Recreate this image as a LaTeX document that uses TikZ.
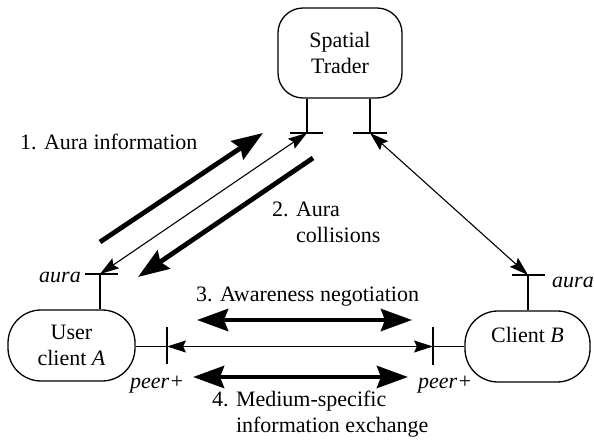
\documentclass[tikz,border=0pt]{standalone}
\usepackage{fontspec}
\setmainfont{Liberation Serif}
\usetikzlibrary{arrows.meta}
\begin{document}
\begin{tikzpicture}[x=1pt,y=-1pt,
  every node/.style={font=\fontsize{22}{26}\selectfont, inner sep=0pt},
  box/.style={draw, line width=1.3pt, rounded corners=33pt, align=center},
  stub/.style={line width=1.8pt},
  lbl/.style={font=\fontsize{22}{26}\selectfont\itshape},
  thinarrow/.style={line width=1.1pt, {Stealth[length=19pt,width=12pt,inset=3pt]}-{Stealth[length=19pt,width=12pt,inset=3pt]}},
  thickarrow/.style={line width=4.8pt, -{Stealth[length=31pt,width=22pt,inset=4pt]}},
  thickdouble/.style={line width=4.8pt, {Stealth[length=31pt,width=22pt,inset=4pt]}-{Stealth[length=31pt,width=22pt,inset=4pt]}}]
\useasboundingbox[fill=white] (0,0) rectangle (594,443);

% boxes
\node[box, rounded corners=25pt, minimum width=124pt, minimum height=90pt] (trader) at (340,53) {Spatial\\Trader};
\node[box, minimum width=127pt, minimum height=71pt] (A) at (71.5,345.5) {User\\client \textit{A}};
\node[box, minimum width=125pt, minimum height=71pt, text height=15pt, text depth=22pt] (B) at (527.5,346.5) {Client \textit{B}};

% stub end points
\coordinate (tl) at (307,133);
\coordinate (tr) at (370,133);
\coordinate (aa) at (100,274);
\coordinate (ba) at (528,275);
\coordinate (pa) at (167,346.5);
\coordinate (pb) at (433,346.5);

% stubs and ticks
\draw[stub] (trader.south -| tl) -- (tl);
\draw[stub] ([xshift=-17pt]tl) -- ([xshift=16pt]tl);
\draw[stub] (trader.south -| tr) -- (tr);
\draw[stub] ([xshift=-17pt]tr) -- ([xshift=17pt]tr);
\draw[stub] (A.north -| aa) -- (aa);
\draw[stub] ([xshift=-15pt]aa) -- ([xshift=18pt]aa);
\draw[stub] (B.north -| ba) -- (ba);
\draw[stub] ([xshift=-16pt]ba) -- ([xshift=17pt]ba);
\draw[stub] (A.east |- pa) -- (pa);
\draw[stub] ([yshift=19pt]pa) -- ([yshift=-17pt]pa);
\draw[stub] (B.west |- pb) -- (pb);
\draw[stub] ([yshift=19pt]pb) -- ([yshift=-18pt]pb);

% thin connectors
\draw[thinarrow] (aa) -- (tl);
\draw[thinarrow] (tr) -- (ba);
\draw[thinarrow] (pa) -- (pb);

% thick message arrows
\coordinate (a1s) at (100,242);
\coordinate (a1e) at (263,133);
\coordinate (a2s) at (313,158);
\coordinate (a2e) at (138,277);
\coordinate (a3l) at (197,320);
\coordinate (a3r) at (412,320);
\coordinate (a4l) at (193,377);
\coordinate (a4r) at (408,377);
\draw[thickarrow] (a1s) -- (a1e);
\draw[thickarrow] (a2s) -- (a2e);
\draw[thickdouble] (a3l) -- (a3r);
\draw[thickdouble] (a4l) -- (a4r);

% labels
\node[anchor=base west] (t1) at (20,150) {1. Aura information};
\node[anchor=north west, align=left] (t2) at (272,202) {2. Aura\\\hphantom{2. }collisions};
\node[anchor=base west] (t3) at (196,302) {3. Awareness negotiation};
\node[anchor=north west, align=left] (t4) at (212,391) {4. Medium-specific\\\hphantom{4. }information exchange};
\node[lbl, anchor=base east] (la) at (81,283) {aura};
\node[lbl, anchor=base west] (lb) at (552,288) {aura};
\node[lbl, anchor=base west] (pla) at (130,388) {peer+};
\node[lbl, anchor=base west] (plb) at (418,388) {peer+};
\end{tikzpicture}
\end{document}
